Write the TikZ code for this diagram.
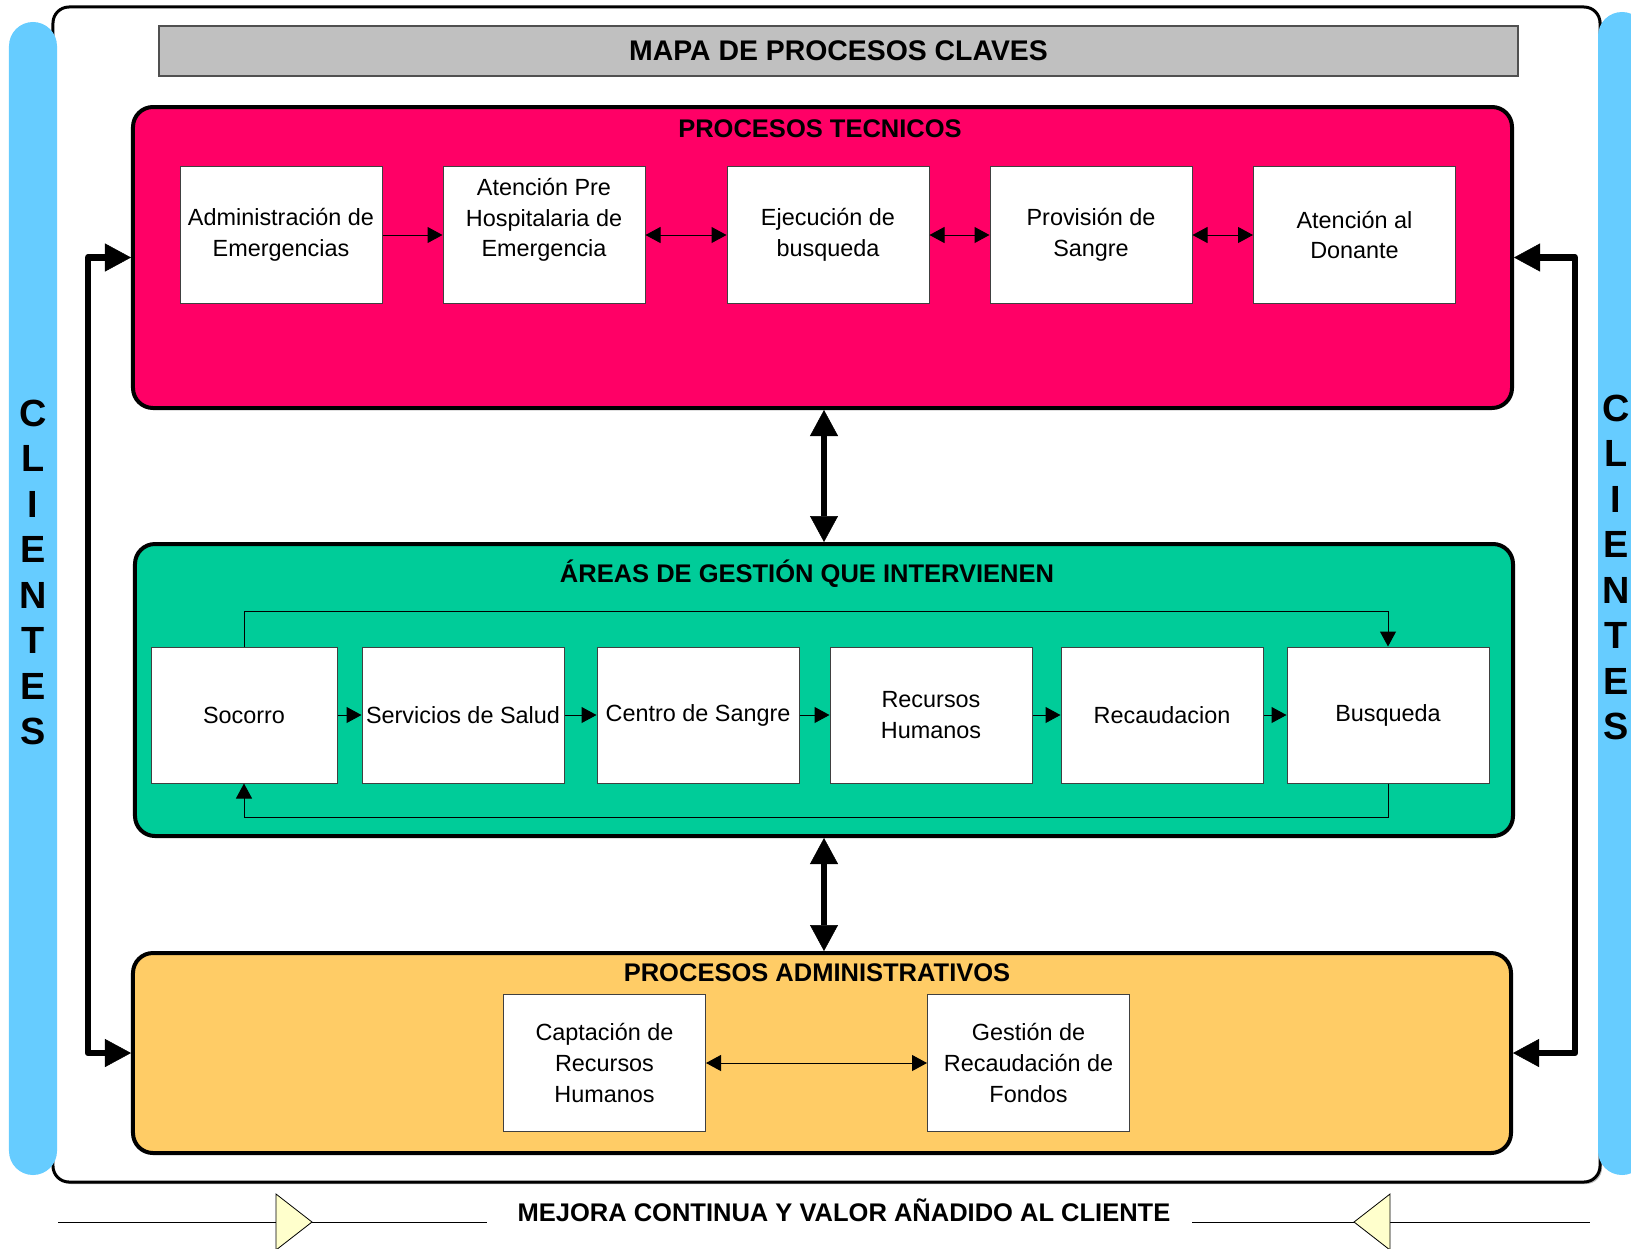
\documentclass[tikz,border=0pt]{standalone}
\usepackage{fontspec}
\setmainfont{Liberation Sans}
\usetikzlibrary{arrows.meta,shadows}

\definecolor{tecnico}{HTML}{FF0066}
\definecolor{gestion}{HTML}{00CC99}
\definecolor{admin}{HTML}{FFCC66}
\definecolor{cliente}{HTML}{66CCFF}
\definecolor{barra}{HTML}{C0C0C0}
\definecolor{barraborde}{HTML}{505050}
\definecolor{triang}{HTML}{FFFFCC}

\begin{document}
\begin{tikzpicture}[x=1bp,y=-1bp,
  frame/.style={draw=black, line width=3bp, fill=white, rounded corners=16bp,
    minimum width=1547bp, minimum height=1175bp, inner sep=0pt,
    drop shadow={shadow xshift=2bp, shadow yshift=-2bp, fill=black!45, opacity=0.6}},
  area/.style={draw=black, line width=4bp, rounded corners=20bp, inner sep=0pt},
  proc/.style={draw=black!75, line width=1bp, fill=white, minimum width=202bp,
    minimum height=137bp, inner sep=0pt, align=center,
    font=\fontsize{23.5}{30.7}\selectfont},
  txt/.style={align=center, inner sep=0pt, font=\fontsize{23.5}{30.7}\selectfont},
  title/.style={anchor=base, inner sep=0pt, font=\fontsize{25.6}{30}\selectfont\bfseries},
  clbar/.style={fill=cliente, rounded corners=24bp, minimum width=48bp, inner sep=0pt},
  letra/.style={inner sep=0pt, font=\fontsize{38}{40}\selectfont\bfseries},
  arr/.style={line width=1bp, -{Triangle[length=15bp,width=16bp]}},
  darr/.style={line width=1bp, {Triangle[length=15bp,width=16bp]}-{Triangle[length=15bp,width=16bp]}},
  big/.style={line width=6.5bp, line join=round,
    {Triangle[length=26bp,width=28bp,line width=0.5bp]}-{Triangle[length=26bp,width=28bp,line width=0.5bp]}},
  tri/.style={draw=black, line width=0.8bp, fill=triang, line join=miter}
]
\useasboundingbox (0,0) rectangle (1631,1248);
\clip (0,0) rectangle (1631,1248);

% outer frame
\node[frame] (marco) at (826.5,594.5) {};

% client bars on both sides
\node[clbar, minimum height=1153bp] (barizq) at (33,598.5) {};
\node[clbar, minimum height=1163bp] (barder) at (1622,593.5) {};
\foreach \l [count=\i from 0] in {C,L,I,E,N,T,E,S}{
  \node[letra] (cli\i) at (33,{413+45.5*\i}) {\l};
  \node[letra] (cld\i) at (1616,{408+45.5*\i}) {\l};
}

% header bar
\node[draw=barraborde, line width=1.5bp, fill=barra, minimum width=1359bp,
  minimum height=50bp, inner sep=0pt] (cab) at (838.5,51) {};
\node[anchor=base, inner sep=0pt, font=\fontsize{28.5}{32}\selectfont\bfseries]
  (cabtxt) at (838.5,60) {MAPA DE PROCESOS CLAVES};

% three process areas
\node[area, fill=tecnico, minimum width=1379bp, minimum height=301bp] (tec) at (822.5,257.5) {};
\node[area, fill=gestion, minimum width=1378bp, minimum height=292bp] (ges) at (824,690) {};
\node[area, fill=admin, minimum width=1378bp, minimum height=200bp] (adm) at (822,1053) {};

\node[title] (tectit) at (820,137) {PROCESOS TECNICOS};
\node[title] (gestit) at (807,582) {ÁREAS DE GESTIÓN QUE INTERVIENEN};
\node[title] (admtit) at (817,981) {PROCESOS ADMINISTRATIVOS};

% technical processes
\node[proc] (t1) at (281,235) {Administración de\\Emergencias};
\node[proc] (t2) at (544,235) {};
\node[txt] (t2txt) at (544,220) {Atención Pre\\Hospitalaria de\\Emergencia};
\node[proc] (t3) at (828,235) {Ejecución de\\busqueda};
\node[proc] (t4) at (1091,235) {Provisión de\\Sangre};
\node[proc] (t5) at (1354.5,235) {Atención al\\Donante};
\draw[arr] (t1) -- (t2);
\draw[darr] (t2) -- (t3);
\draw[darr] (t3) -- (t4);
\draw[darr] (t4) -- (t5);

% management areas
\node[proc, minimum width=186bp, minimum height=136bp] (g1) at (244,715) {Socorro};
\node[proc, minimum height=136bp] (g2) at (463,715) {Servicios de Salud};
\node[proc, minimum height=136bp] (g3) at (698,715) {Centro de Sangre};
\node[proc, minimum height=136bp] (g4) at (931,715) {Recursos\\Humanos};
\node[proc, minimum height=136bp] (g5) at (1162,715) {Recaudacion};
\node[proc, minimum height=136bp] (g6) at (1388,715) {Busqueda};
\draw[arr] (g1) -- (g2);
\draw[arr] (g2) -- (g3);
\draw[arr] (g3) -- (g4);
\draw[arr] (g4) -- (g5);
\draw[arr] (g5) -- (g6);
\draw[arr] (g1.north) -- ++(0,-35) -| (g6.north);
\draw[arr] (g6.south) -- ++(0,34) -| (g1.south);

% administrative processes
\node[proc] (a1) at (604.5,1063) {Captación de\\Recursos\\Humanos};
\node[proc] (a2) at (1028.5,1063) {Gestión de\\Recaudación de\\Fondos};
\draw[darr] (a1) -- (a2);

% links between areas
\draw[big] (ges.north |- tec.south) -- (ges.north);
\draw[big] (ges.south) -- (ges.south |- adm.north);
\draw[big] (tec.west) -- ++(-43,0) |- (adm.west);
\draw[big] (tec.east) -- ++(61,0) |- (adm.east);

% continuous improvement line
\coordinate (mi0) at (58,1222);
\coordinate (mi1) at (487,1222);
\coordinate (md0) at (1192,1222);
\coordinate (md1) at (1590,1222);
\draw[line width=1bp] (mi0) -- (mi1);
\draw[line width=1bp] (md0) -- (md1);
\draw[tri] (276,1194) -- (312,1222) -- (276,1250) -- cycle;
\draw[tri] (1390,1194) -- (1354,1222) -- (1390,1250) -- cycle;
\node[title] (mejora) at (844,1221) {MEJORA CONTINUA Y VALOR AÑADIDO AL CLIENTE};
\end{tikzpicture}
\end{document}
